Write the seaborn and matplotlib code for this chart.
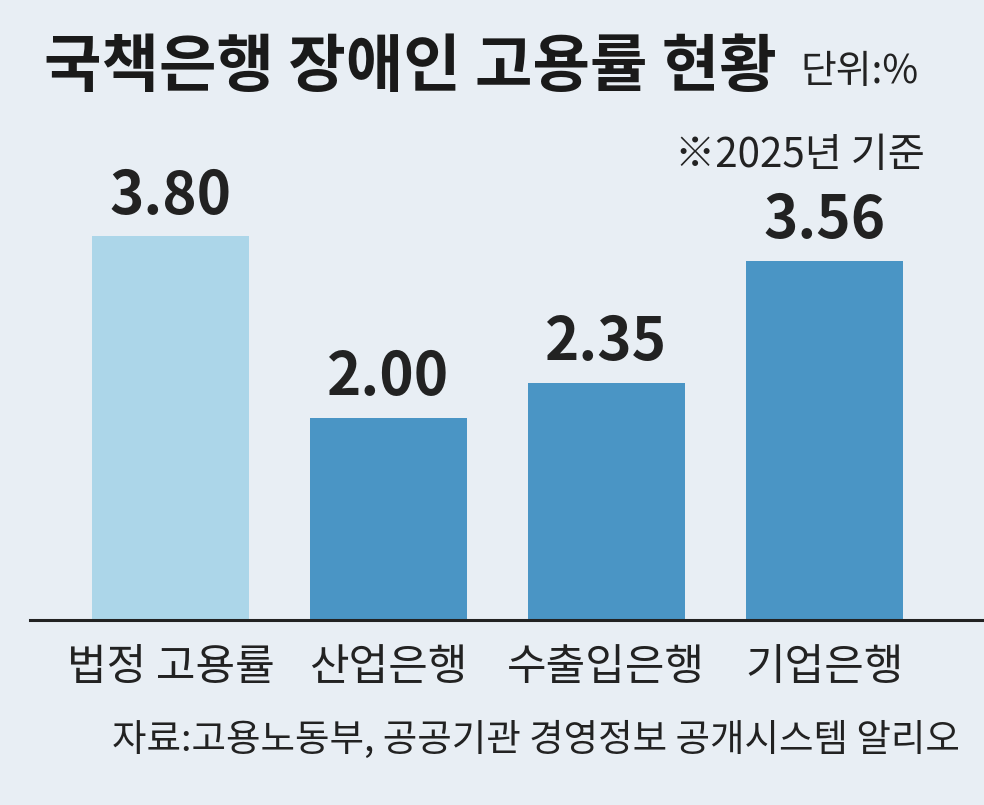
import pandas as pd
import matplotlib.pyplot as plt
import seaborn as sns

# data
categories = ["법정 고용률", "산업은행", "수출입은행", "기업은행"]
rates = [3.80, 2.00, 2.35, 3.56]
bar_colors = ["#acd6e9", "#4a95c5", "#4a95c5", "#4a95c5"]

bg = "#e8eef4"
sns.set_theme(style="white")
plt.rcParams["font.family"] = ["Noto Sans CJK KR", "DejaVu Sans"]

df = pd.DataFrame({"기관": categories, "고용률": rates})

fig = plt.figure(figsize=(9.84, 8.05), dpi=100, facecolor=bg)
ax = fig.add_axes([30 / 984, 185 / 805, 954 / 984, 520 / 805])
ax.set_facecolor(bg)

sns.barplot(data=df, x="기관", y="고용률", hue="기관", palette=bar_colors,
            width=0.72, saturation=1, legend=False, linewidth=0, ax=ax)

ax.set_xlim(-0.644, 3.732)
ax.set_ylim(0, 5.15)
for side in ["top", "right", "left"]:
    ax.spines[side].set_visible(False)
ax.spines["bottom"].set_color("#222222")
ax.spines["bottom"].set_linewidth(2.2)
ax.set_yticks([])
ax.set_xlabel("")
ax.set_ylabel("")
ax.tick_params(axis="x", length=0, pad=19, labelsize=31, labelcolor="#222222")

# value labels
for cont in ax.containers:
    ax.bar_label(cont, fmt="%.2f", padding=7, fontsize=42, fontweight="bold",
                 color="#222222")

# titles and notes
fig.text(44 / 984, 1 - 68 / 805, "국책은행 장애인 고용률 현황", fontsize=45,
         fontweight="bold", color="#1a1a1a", va="center", ha="left")
fig.text(800 / 984, 1 - 72 / 805, "단위:%", fontsize=28, color="#222222",
         va="center", ha="left")
fig.text(925 / 984, 1 - 155 / 805, "※2025년 기준", fontsize=29, color="#222222",
         va="center", ha="right")
fig.text(960 / 984, 1 - 740 / 805, "자료:고용노동부, 공공기관 경영정보 공개시스템 알리오",
         fontsize=27, color="#222222", va="center", ha="right")

fig.savefig("out.png", dpi=100, facecolor=bg)
